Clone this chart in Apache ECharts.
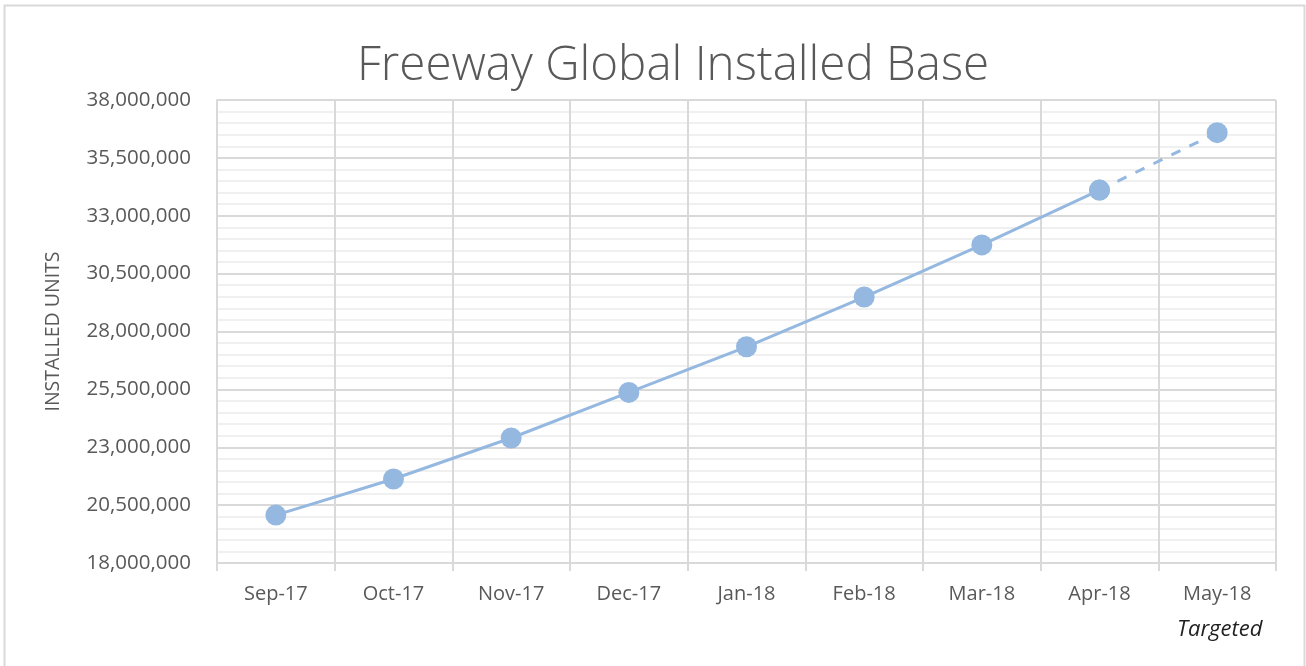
<!DOCTYPE html>
<html>
<head>
<meta charset="utf-8">
<script src="https://cdn.jsdelivr.net/npm/echarts@6/dist/echarts.min.js"></script>
<style>
  html, body { margin: 0; padding: 0; background: #fff; }
  #myChart { width: 1306px; height: 666px; }
</style>
</head>
<body>
<div id="myChart"></div>
<script>
// data
var months = ['Sep-17', 'Oct-17', 'Nov-17', 'Dec-17', 'Jan-18', 'Feb-18', 'Mar-18', 'Apr-18', 'May-18'];
var actualUnits = [20070000, 21630000, 23400000, 25370000, 27340000, 29490000, 31740000, 34110000, '-'];
var targetUnits = ['-', '-', '-', '-', '-', '-', '-', 34110000, 36590000];

var lineColor = '#95b8e0';
var textColor = '#595959';
var font = 'Open Sans';
// axis is shifted by half a million so min stays a multiple of the interval
var shift = 500000;

var myChart = echarts.init(document.getElementById('myChart'));

function shifted(arr) {
  return arr.map(function (v) { return v === '-' ? '-' : v - shift; });
}

var option = {
  animation: false,
  backgroundColor: '#fff',
  title: {
    text: 'Freeway Global Installed Base',
    left: 352,
    top: 37,
    textStyle: {
      fontFamily: font,
      fontWeight: 300,
      fontSize: 47.5,
      color: textColor
    }
  },
  graphic: [
    {
      type: 'rect',
      shape: { x: 4.5, y: 5.5, width: 1300, height: 700 },
      style: { fill: 'none', stroke: '#d9d9d9', lineWidth: 2 },
      silent: true
    },
    {
      type: 'text',
      left: 1177,
      top: 619,
      style: {
        text: 'Targeted',
        fontFamily: font,
        fontStyle: 'italic',
        fontSize: 22,
        fill: '#222'
      }
    }
  ],
  grid: {
    left: 217,
    right: 30,
    top: 100,
    bottom: 103
  },
  xAxis: {
    type: 'category',
    data: months,
    boundaryGap: true,
    axisLine: { show: true, lineStyle: { color: '#d9d9d9', width: 2 } },
    axisTick: { show: true, length: 8, lineStyle: { color: '#d9d9d9', width: 2 } },
    splitLine: { show: true, lineStyle: { color: '#d9d9d9', width: 2 } },
    axisLabel: {
      fontFamily: font,
      fontSize: 20,
      color: textColor,
      margin: 21
    }
  },
  yAxis: {
    type: 'value',
    min: 17500000,
    max: 37500000,
    interval: 2500000,
    name: 'INSTALLED UNITS',
    nameLocation: 'middle',
    nameGap: 154,
    nameRotate: 90,
    nameTextStyle: {
      fontFamily: font,
      fontSize: 19.5,
      color: textColor
    },
    axisLine: { show: true, lineStyle: { color: '#d9d9d9', width: 2 } },
    axisTick: { show: false },
    splitLine: { show: true, lineStyle: { color: '#d9d9d9', width: 2 } },
    minorTick: { show: false, splitNumber: 5 },
    minorSplitLine: { show: true, lineStyle: { color: '#f0f0f0', width: 2 } },
    axisLabel: {
      fontFamily: font,
      fontSize: 20.5,
      color: textColor,
      margin: 26,
      formatter: function (v) { return echarts.format.addCommas(v + shift); }
    }
  },
  series: [
    {
      name: 'Installed',
      type: 'line',
      data: shifted(actualUnits),
      symbol: 'circle',
      symbolSize: 21,
      itemStyle: { color: lineColor },
      lineStyle: { color: lineColor, width: 3 },
      z: 3
    },
    {
      name: 'Targeted',
      type: 'line',
      data: shifted(targetUnits),
      symbol: 'circle',
      symbolSize: 21,
      itemStyle: { color: lineColor },
      lineStyle: { color: lineColor, width: 3, type: [10, 10] },
      z: 2
    }
  ]
};

myChart.setOption(option);
</script>
</body>
</html>
